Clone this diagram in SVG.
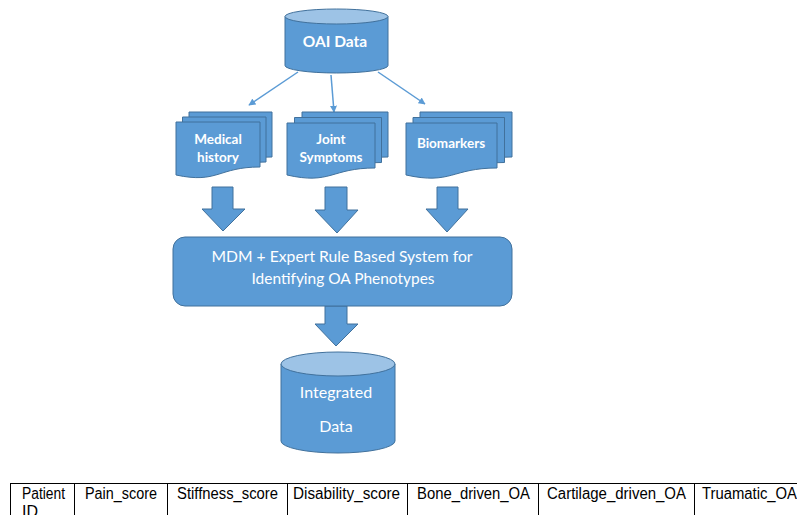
<svg xmlns="http://www.w3.org/2000/svg" width="797" height="515" viewBox="0 0 797 515">
<defs>
<style>
.shape{fill:#5B9BD5;stroke:#41719C;stroke-width:1}
.top{fill:#9DC3E6;stroke:#41719C;stroke-width:1}
.lbl{fill:#ffffff;font-family:Lato,"Open Sans",sans-serif;text-anchor:middle}
.doc{font-size:13.5px;font-weight:700}
.line{stroke:#5B9BD5;stroke-width:1.5;fill:none}
.tbl{stroke:#000;stroke-width:1;fill:none}
.cell{font-family:"Liberation Sans",Arial,sans-serif;font-size:16px;fill:#000}
</style>
<marker id="ah" viewBox="0 0 10 10" refX="9" refY="5" markerWidth="7" markerHeight="7" orient="auto" markerUnits="userSpaceOnUse">
<path d="M0,0 L10,5 L0,10 Z" fill="#5B9BD5"/>
</marker>
</defs>

<g id="oai-data">
<path class="shape" d="M285,16.5 V65.5 A51.5,7.5 0 0 0 388,65.5 V16.5"/>
<ellipse class="top" cx="336.5" cy="16.5" rx="51.5" ry="7.5"/>
<text class="lbl" x="335" y="47" font-size="15.5" font-weight="700">OAI Data</text>
</g>

<g id="connectors">
<line class="line" x1="298" y1="72" x2="249" y2="105" marker-end="url(#ah)"/>
<line class="line" x1="331" y1="75" x2="334" y2="112" marker-end="url(#ah)"/>
<line class="line" x1="378" y1="72" x2="425" y2="104" marker-end="url(#ah)"/>
<path class="shape" d="M212,187 H233 V209 H245 L223,231 L202,209 H212 Z"/>
<path class="shape" d="M325,187 H347 V210 H358 L337,233 L315,210 H325 Z"/>
<path class="shape" d="M437,187 H458 V209 H468 L447,232 L426,209 H437 Z"/>
<path class="shape" d="M325,306 H347 V324 H358 L336,346 L315,324 H325 Z"/>
</g>

<g id="medical-history">
<path class="shape" d="M189,112 H272 V157 C230.5,157 230.5,174 189,164 Z"/>
<path class="shape" d="M182.5,117 H266 V162 C224,162 224,179 182.5,169 Z"/>
<path class="shape" d="M176,122 H260 V167 C218,167 218,184 176,175 Z"/>
<text class="lbl doc" x="218" y="144">Medical</text>
<text class="lbl doc" x="218" y="162">history</text>
</g>

<g id="joint-symptoms">
<path class="shape" d="M302,112 H388 V157 C345,157 345,174 302,164 Z"/>
<path class="shape" d="M294.5,117.5 H381.5 V162.5 C338,162.5 338,179.5 294.5,169.5 Z"/>
<path class="shape" d="M287,123 H375 V168 C331,168 331,185 287,175 Z"/>
<text class="lbl doc" x="331" y="144">Joint</text>
<text class="lbl doc" x="331" y="162">Symptoms</text>
</g>

<g id="biomarkers">
<path class="shape" d="M420,112 H512 V157 C466,157 466,174 420,164 Z"/>
<path class="shape" d="M413,117.5 H504.5 V162.5 C459,162.5 459,179.5 413,169.5 Z"/>
<path class="shape" d="M406,123 H497 V168 C451.5,168 451.5,185 406,175 Z"/>
<text class="lbl doc" x="451" y="148">Biomarkers</text>
</g>

<g id="rule-system">
<rect class="shape" x="173" y="237" width="339" height="69" rx="12" ry="12"/>
<text class="lbl" x="342" y="262" font-size="16" textLength="261" lengthAdjust="spacingAndGlyphs">MDM + Expert Rule Based System for</text>
<text class="lbl" x="343" y="284" font-size="16" textLength="183" lengthAdjust="spacingAndGlyphs">Identifying OA Phenotypes</text>
</g>

<g id="integrated-data">
<path class="shape" d="M281,364 V441 A57,12 0 0 0 395,441 V364"/>
<ellipse class="top" cx="338" cy="364" rx="57" ry="12"/>
<text class="lbl" x="336" y="398" font-size="16">Integrated</text>
<text class="lbl" x="336" y="432" font-size="16">Data</text>
</g>

<g id="table">
<line class="tbl" x1="10" y1="483.5" x2="797" y2="483.5"/>
<line class="tbl" x1="10.5" y1="483" x2="10.5" y2="515"/>
<line class="tbl" x1="74.5" y1="483" x2="74.5" y2="515"/>
<line class="tbl" x1="167.5" y1="483" x2="167.5" y2="515"/>
<line class="tbl" x1="287.5" y1="483" x2="287.5" y2="515"/>
<line class="tbl" x1="407.5" y1="483" x2="407.5" y2="515"/>
<line class="tbl" x1="538.5" y1="483" x2="538.5" y2="515"/>
<line class="tbl" x1="694.5" y1="483" x2="694.5" y2="515"/>
<text class="cell" x="22" y="499" textLength="43" lengthAdjust="spacingAndGlyphs">Patient</text>
<text class="cell" x="22" y="517">ID</text>
<text class="cell" x="85" y="499" textLength="72" lengthAdjust="spacingAndGlyphs">Pain_score</text>
<text class="cell" x="177" y="499" textLength="101" lengthAdjust="spacingAndGlyphs">Stiffness_score</text>
<text class="cell" x="293" y="499" textLength="107" lengthAdjust="spacingAndGlyphs">Disability_score</text>
<text class="cell" x="417" y="499" textLength="113" lengthAdjust="spacingAndGlyphs">Bone_driven_OA</text>
<text class="cell" x="547" y="499" textLength="139" lengthAdjust="spacingAndGlyphs">Cartilage_driven_OA</text>
<text class="cell" x="702" y="499" textLength="95" lengthAdjust="spacingAndGlyphs">Truamatic_OA</text>
</g>
</svg>
